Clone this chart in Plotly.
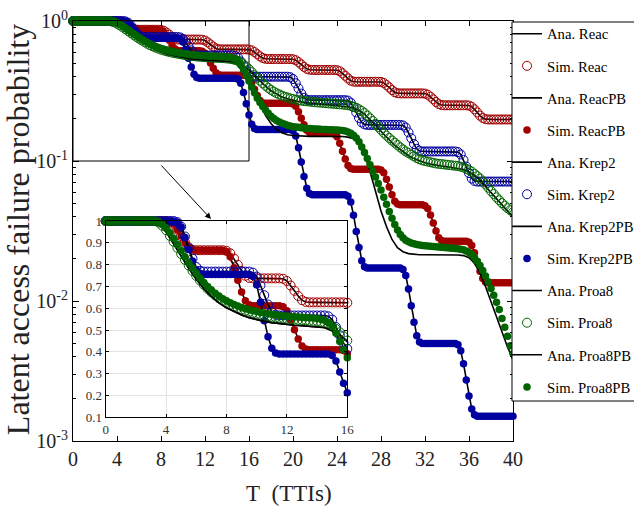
import numpy as np
import plotly.graph_objects as go

# ---------------- data ----------------
T_FINE = np.round(np.arange(0, 40.001, 0.25), 2)   # simulation sample times (TTIs)
T_HALF = np.round(np.arange(0, 40.001, 0.5), 2)    # sample times of the two Proa8 analytic curves
X_TICKS = [0, 4, 8, 12, 16, 20, 24, 28, 32, 36, 40]
Y_TICKS = [1, 0.1, 0.01, 0.001]
Y_TICKTEXT = ["10<sup>0</sup>", "10<sup>-1</sup>", "10<sup>-2</sup>", "10<sup>-3</sup>"]
INSET_X_TICKS = [0, 4, 8, 12, 16]
INSET_Y_TICKS = [0.1, 0.2, 0.3, 0.4, 0.5, 0.6, 0.7, 0.8, 0.9, 1.0]
INSET_Y_TICKTEXT = ["0.1", "0.2", "0.3", "0.4", "0.5", "0.6", "0.7", "0.8", "0.9", "1"]

REAC = [
    1, 1, 1, 1, 1, 1, 1, 1, 1, 1, 1, 1, 1, 1, 1, 1, 1,
    0.997, 0.986, 0.960, 0.931, 0.902, 0.879, 0.868,
    0.866, 0.866, 0.866, 0.866, 0.866, 0.866, 0.866, 0.866,
    0.863, 0.852, 0.828, 0.799, 0.771, 0.749, 0.739,
    0.737, 0.737, 0.737, 0.737, 0.737, 0.737, 0.737, 0.737,
    0.735, 0.725, 0.704, 0.680, 0.656, 0.637, 0.629,
    0.627, 0.627, 0.627, 0.627, 0.627, 0.627, 0.627, 0.627, 0.627, 0.627,
    0.625, 0.617, 0.600, 0.579, 0.559, 0.544, 0.537,
    0.535, 0.535, 0.535, 0.535, 0.535, 0.535, 0.535, 0.535, 0.535,
    0.533, 0.525, 0.509, 0.489, 0.470, 0.455, 0.449,
    0.447, 0.447, 0.447, 0.447, 0.447, 0.447, 0.447, 0.447, 0.447,
    0.445, 0.438, 0.423, 0.406, 0.389, 0.375, 0.369,
    0.368, 0.368, 0.368, 0.368, 0.368, 0.368, 0.368, 0.368, 0.368,
    0.367, 0.361, 0.349, 0.335, 0.321, 0.310, 0.305,
    0.304, 0.304, 0.304, 0.304, 0.304, 0.304, 0.304, 0.304, 0.304,
    0.303, 0.298, 0.288, 0.276, 0.264, 0.255, 0.251,
    0.250, 0.250, 0.250, 0.250, 0.250, 0.250, 0.250, 0.250, 0.250,
    0.249, 0.244, 0.234, 0.2225, 0.211, 0.203, 0.199,
    0.198, 0.198, 0.198, 0.198, 0.198, 0.198, 0.198, 0.198, 0.198, 0.198,
]

REAC_PB = [
    1, 1, 1, 1, 1, 1, 1, 1, 1, 1, 1, 1, 1, 1, 1, 1, 1,
    0.997, 0.986, 0.960, 0.931, 0.902, 0.879, 0.868,
    0.866, 0.866, 0.866, 0.866, 0.866, 0.866, 0.866, 0.866,
    0.860, 0.836, 0.786, 0.728, 0.675, 0.634, 0.616,
    0.612, 0.612, 0.612, 0.612, 0.612, 0.612, 0.612, 0.612,
    0.607, 0.588, 0.547, 0.501, 0.459, 0.427, 0.413,
    0.41, 0.41, 0.41, 0.41, 0.41, 0.41, 0.41, 0.41, 0.41,
    0.406, 0.391, 0.360, 0.325, 0.294, 0.270, 0.260,
    0.258, 0.258, 0.258, 0.258, 0.258, 0.258, 0.258, 0.258, 0.258, 0.258,
    0.2555, 0.2457, 0.2249, 0.2019, 0.1812, 0.1659, 0.1595,
    0.158, 0.158, 0.158, 0.158, 0.158, 0.158, 0.158, 0.158,
    0.1561, 0.1489, 0.1339, 0.1175, 0.1032, 0.0927, 0.0884,
    0.0874, 0.0874, 0.0874, 0.0874, 0.0874, 0.0874, 0.0874, 0.0874, 0.0874, 0.0874,
    0.0864, 0.0824, 0.0742, 0.0652, 0.0573, 0.0515, 0.0492,
    0.0486, 0.0486, 0.0486, 0.0486, 0.0486, 0.0486, 0.0486, 0.0486, 0.0486,
    0.0480, 0.0458, 0.0411, 0.0360, 0.0316, 0.0283, 0.0270,
    0.0267, 0.0267, 0.0267, 0.0267, 0.0267, 0.0267, 0.0267, 0.0267, 0.0267,
    0.0263, 0.0249, 0.0221, 0.0190, 0.0163, 0.01445, 0.01368,
    0.0135, 0.0135, 0.0135, 0.0135, 0.0135, 0.0135, 0.0135, 0.0135, 0.0135, 0.0135,
]

KREP2 = [
    1, 1, 1, 1, 1, 1, 1, 1, 1, 1, 1, 1, 1, 1, 1, 1, 1, 1, 1,
    0.995, 0.974, 0.929, 0.876, 0.827, 0.789, 0.772,
    0.768, 0.768, 0.768, 0.768, 0.768, 0.768, 0.768, 0.768, 0.768, 0.768, 0.768, 0.768, 0.768,
    0.763, 0.745, 0.705, 0.660, 0.617, 0.584, 0.570,
    0.567, 0.567, 0.567, 0.567, 0.567, 0.567, 0.567, 0.567, 0.567, 0.567, 0.567, 0.567, 0.567,
    0.563, 0.548, 0.514, 0.476, 0.441, 0.414, 0.403,
    0.40, 0.40, 0.40, 0.40, 0.40, 0.40, 0.40, 0.40, 0.40, 0.40, 0.40, 0.40, 0.40,
    0.397, 0.385, 0.359, 0.330, 0.303, 0.283, 0.274,
    0.272, 0.272, 0.272, 0.272, 0.272, 0.272, 0.272, 0.272, 0.272, 0.272, 0.272, 0.272, 0.272, 0.272,
    0.270, 0.261, 0.243, 0.222, 0.203, 0.1885, 0.1825,
    0.181, 0.181, 0.181, 0.181, 0.181, 0.181, 0.181, 0.181, 0.181, 0.181, 0.181, 0.181, 0.181,
    0.1794, 0.1733, 0.1602, 0.1455, 0.1322, 0.1222, 0.1180,
    0.117, 0.117, 0.117, 0.117, 0.117, 0.117, 0.117, 0.117, 0.117, 0.117, 0.117, 0.117, 0.117,
    0.1158, 0.1113, 0.1018, 0.0913, 0.0819, 0.0749, 0.0720,
    0.0713, 0.0713, 0.0713, 0.0713, 0.0713, 0.0713, 0.0713, 0.0713, 0.0713, 0.0713, 0.0713, 0.0713, 0.0713, 0.0713,
]

KREP2_PB = [
    1, 1, 1, 1, 1, 1, 1, 1, 1, 1, 1, 1, 1, 1, 1, 1, 1, 1, 1,
    0.994, 0.972, 0.924, 0.869, 0.817, 0.777, 0.759,
    0.755, 0.755, 0.755, 0.755, 0.755, 0.755, 0.755, 0.755, 0.755, 0.755, 0.755, 0.755, 0.755,
    0.745, 0.707, 0.628, 0.543, 0.469, 0.417, 0.395,
    0.39, 0.39, 0.39, 0.39, 0.39, 0.39, 0.39, 0.39, 0.39, 0.39, 0.39, 0.39, 0.39, 0.39,
    0.3835, 0.3585, 0.308, 0.256, 0.2127, 0.1828, 0.1709,
    0.168, 0.168, 0.168, 0.168, 0.168, 0.168, 0.168, 0.168, 0.168, 0.168, 0.168, 0.168, 0.168,
    0.1644, 0.1509, 0.1244, 0.0982, 0.0775, 0.0639, 0.0586,
    0.0574, 0.0574, 0.0574, 0.0574, 0.0574, 0.0574, 0.0574, 0.0574, 0.0574, 0.0574, 0.0574, 0.0574, 0.0574,
    0.0560, 0.0509, 0.0410, 0.0314, 0.0241, 0.0194, 0.0176,
    0.0172, 0.0172, 0.0172, 0.0172, 0.0172, 0.0172, 0.0172, 0.0172, 0.0172, 0.0172, 0.0172, 0.0172, 0.0172,
    0.01678, 0.01519, 0.01216, 0.00925, 0.00705, 0.00564, 0.00510,
    0.00498, 0.00498, 0.00498, 0.00498, 0.00498, 0.00498, 0.00498, 0.00498, 0.00498, 0.00498, 0.00498, 0.00498, 0.00498,
    0.00486, 0.00442, 0.00356, 0.00273, 0.00210, 0.00169, 0.00154,
    0.0015, 0.0015, 0.0015, 0.0015, 0.0015, 0.0015, 0.0015, 0.0015, 0.0015, 0.0015, 0.0015, 0.0015, 0.0015, 0.0015,
]

PROA8 = [
    1, 1, 1, 1, 1, 1, 1, 1, 1, 1, 1, 1, 1, 1,
    0.993, 0.978, 0.958, 0.932, 0.905, 0.877, 0.849, 0.822, 0.796, 0.771,
    0.748, 0.727, 0.707, 0.689, 0.673, 0.659, 0.646, 0.635, 0.625, 0.616,
    0.608, 0.601, 0.595, 0.589, 0.584, 0.579, 0.575, 0.571, 0.567, 0.564,
    0.561, 0.558, 0.556, 0.554, 0.552, 0.550, 0.549, 0.547, 0.546, 0.545,
    0.543, 0.542, 0.540, 0.537, 0.533, 0.527, 0.518, 0.505, 0.490, 0.472,
    0.452, 0.431, 0.410, 0.392, 0.375, 0.359, 0.345, 0.333, 0.322, 0.313,
    0.305, 0.299, 0.293, 0.288, 0.284, 0.280, 0.277, 0.274, 0.272, 0.270,
    0.268, 0.267, 0.266, 0.264, 0.263, 0.262, 0.261, 0.260, 0.259, 0.258,
    0.257, 0.256, 0.255, 0.254, 0.253, 0.252, 0.250, 0.248, 0.244, 0.240,
    0.234, 0.228, 0.220, 0.211, 0.202, 0.193, 0.184, 0.175, 0.167, 0.159,
    0.152, 0.146, 0.140, 0.135, 0.130, 0.125, 0.121, 0.117, 0.114, 0.111,
    0.108, 0.105, 0.103, 0.101, 0.100, 0.099, 0.098, 0.097, 0.096, 0.0955,
    0.095, 0.0945, 0.094, 0.0935, 0.093, 0.0925, 0.092, 0.091, 0.090, 0.088,
    0.086, 0.084, 0.081, 0.078, 0.075, 0.0715, 0.068, 0.0645, 0.061, 0.058,
    0.055, 0.0525, 0.050, 0.048, 0.046, 0.0445, 0.043,
]

PROA8_PB = [
    1, 1, 1, 1, 1, 1, 1, 1, 1, 1, 1, 1, 1, 1,
    0.995, 0.984, 0.968, 0.946, 0.920, 0.892, 0.864, 0.836, 0.809, 0.784,
    0.760, 0.738, 0.718, 0.700, 0.684, 0.669, 0.656, 0.644, 0.634, 0.625,
    0.617, 0.610, 0.604, 0.598, 0.593, 0.589, 0.585, 0.581, 0.578, 0.575,
    0.572, 0.570, 0.568, 0.566, 0.564, 0.562, 0.561, 0.560, 0.559, 0.558,
    0.557, 0.555, 0.553, 0.550, 0.545, 0.534, 0.515, 0.485, 0.448, 0.410,
    0.373, 0.338, 0.307, 0.282, 0.262, 0.245, 0.231, 0.219, 0.209, 0.201,
    0.195, 0.190, 0.186, 0.183, 0.180, 0.178, 0.176, 0.175, 0.174, 0.173,
    0.172, 0.171, 0.1705, 0.170, 0.1695, 0.169, 0.1685, 0.168, 0.1677, 0.1674,
    0.1671, 0.1668, 0.1665, 0.166, 0.165, 0.1635, 0.161, 0.158, 0.153, 0.146,
    0.137, 0.126, 0.115, 0.104, 0.094, 0.085, 0.077, 0.069, 0.062, 0.055,
    0.049, 0.0435, 0.039, 0.0352, 0.0322, 0.0299, 0.0283, 0.0272, 0.0265, 0.0260,
    0.0256, 0.0253, 0.0251, 0.0249, 0.0248, 0.0247, 0.0246, 0.0245, 0.0244, 0.0243,
    0.0242, 0.0241, 0.0240, 0.0239, 0.0238, 0.0237, 0.0236, 0.0234, 0.0232, 0.0228,
    0.0222, 0.0214, 0.0204, 0.0192, 0.0179, 0.0165, 0.0151, 0.0137, 0.0123, 0.0110,
    0.0098, 0.0087, 0.0075, 0.0065, 0.0056, 0.0048, 0.0042,
]

PROA8_ANA = [
    1, 1, 1, 1, 1, 1, 1,
    0.99, 0.95, 0.895, 0.838, 0.783, 0.733, 0.69, 0.654, 0.625, 0.602,
    0.584, 0.569, 0.557, 0.548, 0.540, 0.534, 0.529, 0.525, 0.522, 0.520,
    0.518, 0.516, 0.512, 0.503, 0.480, 0.446, 0.408, 0.372, 0.342, 0.318,
    0.300, 0.287, 0.278, 0.271, 0.266, 0.262, 0.259, 0.256, 0.254, 0.252,
    0.250, 0.248, 0.246, 0.243, 0.238, 0.230, 0.216, 0.198, 0.180, 0.163,
    0.148, 0.135, 0.125, 0.116, 0.109, 0.104, 0.100, 0.097, 0.095, 0.093,
    0.092, 0.091, 0.090, 0.089, 0.087, 0.084, 0.079, 0.073, 0.066, 0.059,
    0.053, 0.048, 0.044, 0.040,
]

PROA8_PB_ANA = [
    1, 1, 1, 1, 1, 1, 1,
    0.99, 0.95, 0.895, 0.838, 0.783, 0.733, 0.69, 0.654, 0.625, 0.602,
    0.584, 0.569, 0.557, 0.548, 0.540, 0.534, 0.529, 0.525, 0.522, 0.520,
    0.518, 0.516, 0.511, 0.496, 0.455, 0.385, 0.315, 0.255, 0.212, 0.185,
    0.168, 0.159, 0.154, 0.152, 0.151, 0.150, 0.150, 0.150, 0.150, 0.150,
    0.150, 0.150, 0.1495, 0.148, 0.144, 0.133, 0.112, 0.084, 0.060, 0.044,
    0.034, 0.0275, 0.0240, 0.0225, 0.0218, 0.0215, 0.0214, 0.0214, 0.0214, 0.0214,
    0.0214, 0.0214, 0.0214, 0.0213, 0.0211, 0.0204, 0.0186, 0.0158, 0.0127, 0.0099,
    0.0077, 0.0060, 0.0047, 0.0038,
]

for arr in (REAC, REAC_PB, KREP2, KREP2_PB, PROA8, PROA8_PB):
    assert len(arr) == len(T_FINE), len(arr)
for arr in (PROA8_ANA, PROA8_PB_ANA):
    assert len(arr) == len(T_HALF), len(arr)

RED, BLUE, GREEN = "#a00000", "#0000a0", "#006400"
FONT = "Liberation Serif, Times New Roman, serif"

SERIES = [
    ("Reac", T_FINE, REAC, T_FINE, REAC, RED, True),
    ("ReacPB", T_FINE, REAC_PB, T_FINE, REAC_PB, RED, False),
    ("Krep2", T_FINE, KREP2, T_FINE, KREP2, BLUE, True),
    ("Krep2PB", T_FINE, KREP2_PB, T_FINE, KREP2_PB, BLUE, False),
    ("Proa8", T_HALF, PROA8_ANA, T_FINE, PROA8, GREEN, True),
    ("Proa8PB", T_HALF, PROA8_PB_ANA, T_FINE, PROA8_PB, GREEN, False),
]


def marker_for(color, hollow):
    if hollow:
        return dict(symbol="circle-open", size=9, color=color, line=dict(width=1, color=color))
    return dict(symbol="circle", size=7.5, color=color, line=dict(width=0))


fig = go.Figure()

# main plot
for name, ta, ya, ts, ys, color, hollow in SERIES:
    fig.add_trace(go.Scatter(x=ta, y=ya, mode="lines", name="Ana. " + name,
                             line=dict(color="black", width=1.6),
                             legendgroup="a" + name, cliponaxis=False))
    fig.add_trace(go.Scatter(x=ts, y=ys, mode="markers", name="Sim. " + name,
                             marker=marker_for(color, hollow),
                             legendgroup="s" + name, cliponaxis=False))

# inset (zoom on 0..16 TTIs, linear scale)
for name, ta, ya, ts, ys, color, hollow in SERIES:
    ta = np.asarray(ta); ya = np.asarray(ya); ts = np.asarray(ts); ys = np.asarray(ys)
    ma = ta <= 16
    ms = ts <= 16
    fig.add_trace(go.Scatter(x=ta[ma], y=ya[ma], mode="lines", showlegend=False,
                             line=dict(color="black", width=1.6),
                             xaxis="x2", yaxis="y2", cliponaxis=False))
    fig.add_trace(go.Scatter(x=ts[ms], y=ys[ms], mode="markers", showlegend=False,
                             marker=marker_for(color, hollow),
                             xaxis="x2", yaxis="y2", cliponaxis=False))

minor_vals = [k * 10.0 ** e for e in (-3, -2, -1) for k in range(2, 10)]

fig.update_layout(
    width=634, height=506,
    margin=dict(l=73, r=121, t=21, b=65, autoexpand=False),
    paper_bgcolor="white", plot_bgcolor="white",
    font=dict(family=FONT, color="black"),
    showlegend=True,
    legend=dict(x=0.9864, xanchor="left", y=1.008, yanchor="top", maxheight=1.0,
                bgcolor="rgba(0,0,0,0)", borderwidth=0,
                font=dict(family=FONT, size=14.7, color="black"),
                tracegroupgap=10, itemwidth=30),
    xaxis=dict(range=[0, 40], tickmode="array", tickvals=X_TICKS,
               ticks="inside", ticklen=5, tickcolor="black",
               showline=True, linecolor="black", linewidth=1, mirror="ticks",
               showgrid=False, zeroline=False,
               tickfont=dict(family=FONT, size=20, color="#222")),
    yaxis=dict(type="log", range=[-3, 0], tickmode="array", tickvals=Y_TICKS, ticktext=Y_TICKTEXT,
               ticks="inside", ticklen=6, tickcolor="black",
               minor=dict(tickmode="array", tickvals=minor_vals, ticks="inside", ticklen=3,
                          tickcolor="black", showgrid=False),
               showline=True, linecolor="black", linewidth=1, mirror="ticks",
               showgrid=False, zeroline=False,
               tickfont=dict(family=FONT, size=20, color="#222")),
    xaxis2=dict(domain=[0.0743, 0.6234], anchor="y2", range=[0, 16],
                tickmode="array", tickvals=INSET_X_TICKS,
                ticks="inside", ticklen=3, tickcolor="black",
                showline=True, linecolor="black", linewidth=1, mirror="ticks",
                showgrid=True, gridcolor="#e2e2e2", gridwidth=1, zeroline=False,
                tickfont=dict(family=FONT, size=13, color="#333")),
    yaxis2=dict(domain=[0.0564, 0.5238], anchor="x2", range=[0.1, 1],
                tickmode="array", tickvals=INSET_Y_TICKS, ticktext=INSET_Y_TICKTEXT,
                ticks="inside", ticklen=3, tickcolor="black",
                showline=True, linecolor="black", linewidth=1, mirror="ticks",
                showgrid=True, gridcolor="#e2e2e2", gridwidth=1, zeroline=False,
                tickfont=dict(family=FONT, size=13, color="#333")),
    shapes=[
        dict(type="rect", xref="x", yref="y", x0=0, x1=16, y0=0.1, y1=1,
             line=dict(color="black", width=1), fillcolor="rgba(0,0,0,0)", layer="below"),
        dict(type="rect", xref="x2", yref="y2", x0=0, x1=16, y0=0.1, y1=1,
             line=dict(width=0), fillcolor="white", layer="below"),
        # legend frame
        dict(type="rect", xref="paper", yref="paper", x0=0.9977, x1=1.35, y0=0.0952, y1=0.9976,
             line=dict(color="black", width=1), fillcolor="white", layer="above"),
    ],
    annotations=[
        dict(text="Latent access failure probability", xref="paper", yref="paper",
             x=-0.125, y=0.502, textangle=-90, showarrow=False,
             xanchor="center", yanchor="middle",
             font=dict(family=FONT, size=32, color="#222")),
        dict(text="T\u00a0 (TTIs)", xref="paper", yref="paper",
             x=0.491, y=-0.124, showarrow=False, xanchor="center", yanchor="middle",
             font=dict(family=FONT, size=23, color="#222")),
        dict(text="", xref="paper", yref="paper", x=0.3136, y=0.5286,
             ax=-51, ay=-55, showarrow=True, arrowhead=2, arrowsize=1.2,
             arrowwidth=1, arrowcolor="black", standoff=0),
    ],
)

fig.write_html("out.html")
